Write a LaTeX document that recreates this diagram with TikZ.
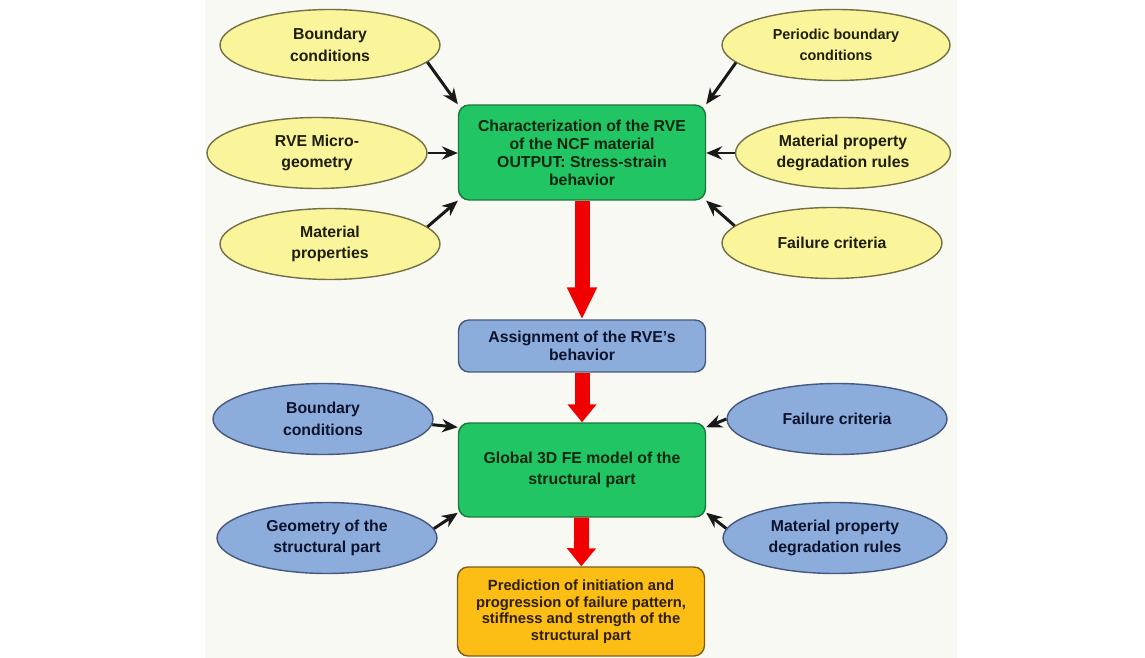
\documentclass[tikz,border=0pt]{standalone}
\usepackage{fontspec}
\setmainfont{Liberation Sans}
\usetikzlibrary{shapes.geometric,arrows.meta}
\definecolor{ylwfill}{RGB}{250,245,155}
\definecolor{ylwline}{RGB}{115,112,70}
\definecolor{ylwtext}{RGB}{30,30,10}
\definecolor{blufill}{RGB}{140,172,220}
\definecolor{bluline}{RGB}{70,88,125}
\definecolor{blutext}{RGB}{12,20,45}
\definecolor{grnfill}{RGB}{34,197,100}
\definecolor{grnline}{RGB}{25,120,60}
\definecolor{grntext}{RGB}{8,38,16}
\definecolor{orgfill}{RGB}{252,190,20}
\definecolor{orgline}{RGB}{125,95,25}
\definecolor{orgtext}{RGB}{45,30,0}
\definecolor{redarr}{RGB}{240,0,0}
\definecolor{panel}{RGB}{249,249,244}
\begin{document}
\begin{tikzpicture}[x=0.02cm,y=-0.02cm,
every node/.style={font=\bfseries\fontsize{9}{12.3}\selectfont,align=center,inner sep=0pt},
yel/.style={ellipse,draw=ylwline,fill=ylwfill,line width=0.8pt,minimum width=4.4cm,minimum height=1.42cm,text=ylwtext},
blu/.style={ellipse,draw=bluline,fill=blufill,line width=0.8pt,minimum width=4.4cm,minimum height=1.42cm,text=blutext},
boxg/.style={rectangle,rounded corners=6pt,draw=grnline,fill=grnfill,line width=0.8pt,minimum width=4.94cm,text=grntext,font=\bfseries\fontsize{9}{10.3}\selectfont},
boxb/.style={boxg,draw=bluline,fill=blufill,text=blutext},
boxo/.style={boxg,draw=orgline,fill=orgfill,text=orgtext,font=\bfseries\fontsize{8.4}{9.4}\selectfont},
feed/.style={-{Stealth[length=9pt,width=7.5pt]},line width=1.7pt,black!90},
flow/.style={-{Triangle[length=#1,width=0.56cm]},line width=0.3cm,redarr},
flow/.default=0.36cm]
\fill[white](0,0)rectangle(1145,658);
\fill[panel](205,0)rectangle(957,658);
\useasboundingbox(0,0)rectangle(1145,658);
\node[yel](kBC)at(330,45){Boundary\\conditions};
\node[yel](kRVE)at(317,153){RVE Micro-\\geometry};
\node[yel](kMP)at(330,244){Material\\properties};
\node[yel,minimum width=4.56cm,font=\bfseries\fontsize{8.2}{12.3}\selectfont](kPB)at(836,45){Periodic boundary\\conditions};
\node[yel,minimum width=4.3cm](kMD)at(843,153){Material property\\degradation rules};
\node[yel](kFC)at(832,243){Failure criteria};
\node[boxg,minimum height=1.9cm](kCh)at(582,152.5){Characterization of the RVE\\of the NCF material\\OUTPUT: Stress-strain\\behavior};
\node[boxb,minimum height=1.04cm](kAs)at(582,346){Assignment of the RVE's\\behavior};
\node[boxg,minimum height=1.88cm,font=\bfseries\fontsize{9}{12.3}\selectfont](kGl)at(582,470){Global 3D FE model of the\\structural part};
\node[boxo,minimum height=1.78cm](kPr)at(581,611.5){Prediction of initiation and\\progression of failure pattern,\\stiffness and strength of the\\structural part};
\node[blu](kBB)at(323,419){Boundary\\conditions};
\node[blu](kGe)at(327,538){Geometry of the\\structural part};
\node[blu](kBF)at(837,419){Failure criteria};
\node[blu,minimum width=4.48cm](kBM)at(835,538){Material property\\degradation rules};
\draw[feed](kBC.-10)--(kCh.north west);
\draw[feed](kRVE.east)--(kCh.west|-kRVE.east);
\draw[feed](kMP.10)--(kCh.south west);
\draw[feed](kPB.190)--(kCh.north east);
\draw[feed](kMD.west)--(kCh.east|-kMD.west);
\draw[feed](kFC.170)--(kCh.south east);
\draw[feed](kBB.-3)--(kGl.161);
\draw[feed](kGe.5)--(kGl.199);
\draw[feed](kBF.west)--(kGl.19);
\draw[feed](kBM.175)--(kGl.-19);
\draw[flow=0.64cm](kCh)--(kAs);
\draw[flow](kAs)--(kGl);
\draw[flow](kGl)--(kPr);
\end{tikzpicture}
\end{document}
